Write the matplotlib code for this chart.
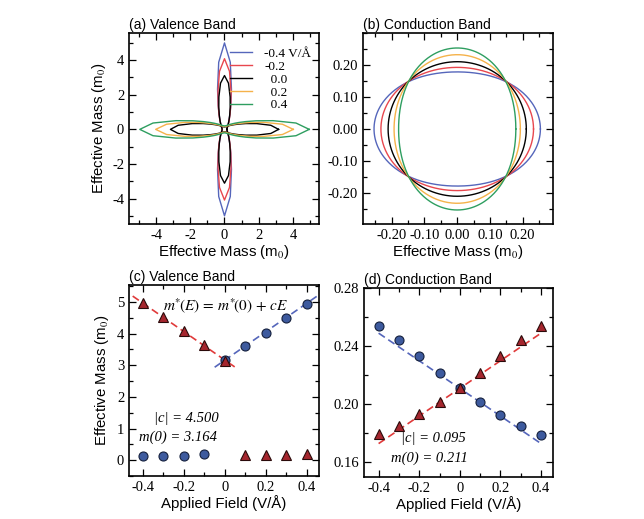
import numpy as np
import matplotlib
matplotlib.use("Agg")
import matplotlib.pyplot as plt
from matplotlib.ticker import MultipleLocator, FixedLocator

plt.rcParams['axes.unicode_minus'] = False
plt.rcParams['mathtext.fontset'] = 'stix'

# ---------------- data ----------------
fields = [-0.4, -0.3, -0.2, -0.1, 0.0, 0.1, 0.2, 0.3, 0.4]
# valence band (panel c)
vb_circles = [0.13, 0.13, 0.14, 0.19, 3.16, 3.60, 4.02, 4.49, 4.95]
vb_triangles = [4.98, 4.54, 4.07, 3.63, 3.15, 0.16, 0.16, 0.16, 0.20]
vb_c = 4.500
vb_m0 = 3.164
# conduction band (panel d)
cb_circles = [0.254, 0.244, 0.233, 0.2216, 0.211, 0.2017, 0.1928, 0.1852, 0.179]
cb_triangles = [0.1795, 0.1854, 0.1932, 0.2019, 0.211, 0.2216, 0.233, 0.244, 0.254]
cb_c = 0.095
cb_m0 = 0.211

# contour curves (panels a, b)
contour_labels = ['-0.4 V/Å', '-0.2', '\u20070.0', '\u20070.2', '\u20070.4']
contour_colors = ['#5566bb', '#e8474e', '#000000', '#f5b24a', '#2e9e60']
vb_mass_x = [0.13, 0.14, 3.16, 4.02, 4.95]
vb_mass_y = [4.98, 4.07, 3.10, 0.16, 0.20]
vb_light = [0.13, 0.14, 0.14, 0.16, 0.20]
cb_mass_x = [0.254, 0.233, 0.211, 0.1928, 0.179]
cb_mass_y = [0.179, 0.1932, 0.211, 0.233, 0.254]

SERIF = 'Liberation Serif'
SANS = 'Liberation Sans'
TICK_FS = 10.5
LAB_FS = 10.8
TITLE_FS = 10

fig = plt.figure(figsize=(6.44, 5.19), dpi=100)
axA = fig.add_axes([0.2003, 0.5684, 0.295, 0.368])
axB = fig.add_axes([0.5637, 0.5684, 0.295, 0.368])
axC = fig.add_axes([0.2003, 0.0829, 0.295, 0.368])
axD = fig.add_axes([0.5652, 0.0809, 0.2935, 0.364])


def style(ax):
    ax.tick_params(which='both', direction='in', top=True, right=True,
                   labelsize=TICK_FS, width=0.9)
    ax.tick_params(which='major', length=5)
    ax.tick_params(which='minor', length=3)
    for s in ax.spines.values():
        s.set_linewidth(1.2)


def polar_curve(mx, my, step_deg):
    th = np.deg2rad(np.arange(0, 360 + step_deg, step_deg))
    r = 1.0 / (np.cos(th) ** 2 / mx + np.sin(th) ** 2 / my)
    return r * np.cos(th), r * np.sin(th)


# ---------------- (a) ----------------
for mx, my, ml, col, lab in zip(vb_mass_x, vb_mass_y, vb_light, contour_colors, contour_labels):
    first = True
    if mx > 1:
        x, y = polar_curve(mx, ml, 5)
        axA.plot(x, y, color=col, lw=1.0, label=lab if first else None)
        first = False
    if my > 1:
        x, y = polar_curve(ml, my, 5)
        axA.plot(x, y, color=col, lw=1.0, label=lab if first else None)
        first = False
axA.set_xlim(-5.58, 5.52)
axA.set_ylim(-5.45, 5.55)
axA.xaxis.set_major_locator(FixedLocator([-4, -2, 0, 2, 4]))
axA.yaxis.set_major_locator(FixedLocator([-4, -2, 0, 2, 4]))
axA.xaxis.set_minor_locator(MultipleLocator(1))
axA.yaxis.set_minor_locator(MultipleLocator(1))
style(axA)
axA.set_xlabel('Effective Mass (m$_0$)', family=SANS, fontsize=LAB_FS, labelpad=1)
axA.set_ylabel('Effective Mass (m$_0$)', family=SANS, fontsize=LAB_FS, labelpad=3)
axA.set_title('(a) Valence Band', loc='left', family=SANS, fontsize=TITLE_FS, pad=3)
leg = axA.legend(loc='upper right', frameon=False, prop={'family': SERIF, 'size': 9.5},
                 handlelength=1.7, labelspacing=0.05, borderaxespad=0.2, handletextpad=0.9,
                 bbox_to_anchor=(1.0, 0.965))

# ---------------- (b) ----------------
for mx, my, col in zip(cb_mass_x, cb_mass_y, contour_colors):
    x, y = polar_curve(mx, my, 1)
    axB.plot(x, y, color=col, lw=1.0)
axB.set_xlim(-0.2876, 0.2925)
axB.set_ylim(-0.298, 0.301)
axB.xaxis.set_major_locator(FixedLocator([-0.2, -0.1, 0.0, 0.1, 0.2]))
axB.yaxis.set_major_locator(FixedLocator([-0.2, -0.1, 0.0, 0.1, 0.2]))
axB.xaxis.set_minor_locator(MultipleLocator(0.05))
axB.yaxis.set_minor_locator(MultipleLocator(0.05))
axB.xaxis.set_major_formatter(lambda v, p: f'{v:.2f}')
axB.yaxis.set_major_formatter(lambda v, p: f'{v:.2f}')
style(axB)
axB.set_xlabel('Effective Mass (m$_0$)', family=SANS, fontsize=LAB_FS, labelpad=1)
axB.set_title('(b) Conduction Band', loc='left', family=SANS, fontsize=TITLE_FS, pad=3)

# ---------------- (c) ----------------
CIRC = dict(marker='o', ms=6.5, mfc='#3d5a9e', mec='#15203d', mew=0.8, ls='none')
TRI = dict(marker='^', ms=6.5, mfc='#a5262e', mec='#2a0a0a', mew=0.8, ls='none')
xr = np.array([-0.45, 0.05])
axC.plot(xr, vb_m0 - vb_c * xr, ls=(0, (4.5, 2.5)), color='#e03a3a', lw=1.2)
xb = np.array([-0.05, 0.45])
axC.plot(xb, vb_m0 + vb_c * xb, ls=(0, (4.5, 2.5)), color='#5566bb', lw=1.2)
axC.plot(fields, vb_circles, **CIRC)
axC.plot(fields, vb_triangles, **TRI)
axC.set_xlim(-0.468, 0.459)
axC.set_ylim(-0.5, 5.54)
axC.xaxis.set_major_locator(FixedLocator([-0.4, -0.2, 0, 0.2, 0.4]))
axC.xaxis.set_minor_locator(MultipleLocator(0.1))
axC.yaxis.set_major_locator(FixedLocator([0, 1, 2, 3, 4, 5]))
axC.yaxis.set_minor_locator(MultipleLocator(0.5))
axC.xaxis.set_major_formatter(lambda v, p: '0' if abs(v) < 1e-9 else f'{v:.1f}')
style(axC)
axC.set_xlabel('Applied Field (V/Å)', family=SANS, fontsize=LAB_FS, labelpad=1)
axC.set_ylabel('Effective Mass (m$_0$)', family=SANS, fontsize=LAB_FS, labelpad=4)
axC.set_title('(c) Valence Band', loc='left', family=SANS, fontsize=TITLE_FS, pad=3)
axC.text(0.005, 4.9, r'$m^{*}\!(E)\,=\,m^{*}\!(0)\,+\,cE$', fontsize=11, ha='center', va='center')
axC.text(-0.19, 1.33, '|c| = 4.500', family=SERIF, style='italic', fontsize=10.5,
         ha='center', va='center')
axC.text(-0.23, 0.72, 'm(0) = 3.164', family=SERIF, style='italic', fontsize=10.5,
         ha='center', va='center')

# ---------------- (d) ----------------
xl = np.array([-0.4, 0.4])
axD.plot(xl, cb_m0 - cb_c * xl, ls=(0, (4.5, 2.5)), color='#5566bb', lw=1.2)
axD.plot(xl, cb_m0 + cb_c * xl, ls=(0, (4.5, 2.5)), color='#e03a3a', lw=1.2)
axD.plot(fields, cb_circles, **CIRC)
axD.plot(fields, cb_triangles, **TRI)
axD.set_xlim(-0.472, 0.459)
axD.set_ylim(0.150, 0.28)
axD.xaxis.set_major_locator(FixedLocator([-0.4, -0.2, 0, 0.2, 0.4]))
axD.xaxis.set_minor_locator(MultipleLocator(0.1))
axD.yaxis.set_major_locator(FixedLocator([0.16, 0.20, 0.24, 0.28]))
axD.yaxis.set_minor_locator(MultipleLocator(0.02))
axD.xaxis.set_major_formatter(lambda v, p: '0' if abs(v) < 1e-9 else f'{v:.1f}')
axD.yaxis.set_major_formatter(lambda v, p: f'{v:.2f}')
style(axD)
axD.set_xlabel('Applied Field (V/Å)', family=SANS, fontsize=LAB_FS, labelpad=1)
axD.set_title('(d) Conduction Band', loc='left', family=SANS, fontsize=TITLE_FS, pad=3)
axD.text(-0.128, 0.1762, '|c| = 0.095', family=SERIF, style='italic', fontsize=10.5,
         ha='center', va='center')
axD.text(-0.152, 0.1632, 'm(0) = 0.211', family=SERIF, style='italic', fontsize=10.5,
         ha='center', va='center')

for ax in (axA, axB, axC, axD):
    for lab in ax.get_xticklabels() + ax.get_yticklabels():
        lab.set_family(SERIF)

fig.savefig('out.png', dpi=100)
